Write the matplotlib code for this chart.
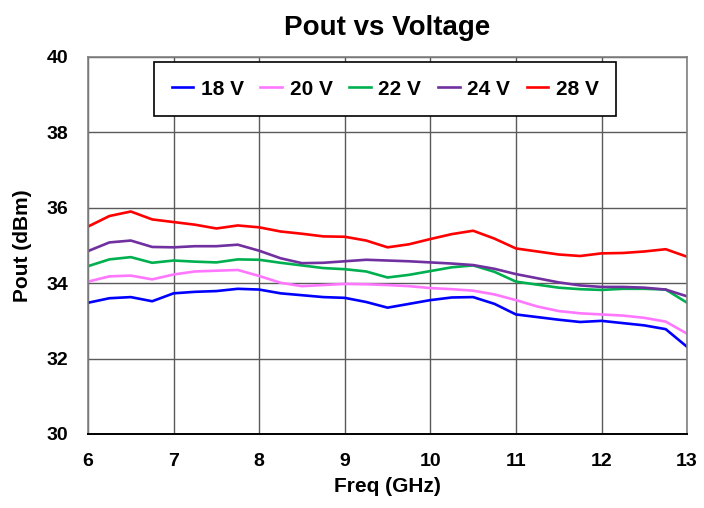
import numpy as np
import matplotlib
matplotlib.use("Agg")
import matplotlib.pyplot as plt

plt.rcParams['font.family'] = ['Liberation Sans', 'DejaVu Sans']
plt.rcParams['font.weight'] = 'bold'

freq = [6.0, 6.25, 6.5, 6.75, 7.0, 7.25, 7.5, 7.75, 8.0, 8.25, 8.5, 8.75, 9.0, 9.25, 9.5,
        9.75, 10.0, 10.25, 10.5, 10.75, 11.0, 11.25, 11.5, 11.75, 12.0, 12.25, 12.5, 12.75, 13.0]

p18 = [33.48, 33.60, 33.63, 33.52, 33.73, 33.77, 33.79, 33.85, 33.83, 33.73, 33.68, 33.63, 33.61, 33.50, 33.35,
       33.45, 33.55, 33.62, 33.63, 33.45, 33.17, 33.10, 33.03, 32.97, 33.00, 32.94, 32.88, 32.78, 32.31]
p20 = [34.04, 34.18, 34.20, 34.10, 34.23, 34.31, 34.33, 34.35, 34.19, 34.01, 33.92, 33.95, 33.98, 33.97, 33.95,
       33.92, 33.87, 33.84, 33.80, 33.70, 33.55, 33.38, 33.26, 33.20, 33.17, 33.14, 33.08, 32.98, 32.66]
p22 = [34.45, 34.63, 34.69, 34.54, 34.60, 34.57, 34.55, 34.63, 34.62, 34.54, 34.47, 34.40, 34.37, 34.31, 34.15,
       34.22, 34.32, 34.42, 34.47, 34.30, 34.04, 33.96, 33.88, 33.84, 33.82, 33.85, 33.85, 33.83, 33.48]
p24 = [34.85, 35.08, 35.13, 34.96, 34.95, 34.98, 34.98, 35.02, 34.86, 34.66, 34.53, 34.54, 34.58, 34.62, 34.60,
       34.58, 34.55, 34.52, 34.48, 34.38, 34.24, 34.13, 34.02, 33.94, 33.90, 33.90, 33.88, 33.83, 33.65]
p28 = [35.50, 35.78, 35.90, 35.69, 35.62, 35.55, 35.45, 35.53, 35.48, 35.37, 35.31, 35.24, 35.23, 35.13, 34.95,
       35.03, 35.17, 35.30, 35.39, 35.18, 34.92, 34.84, 34.76, 34.72, 34.79, 34.80, 34.84, 34.90, 34.70]

labels = ['18 V', '20 V', '22 V', '24 V', '28 V']
colors = ['#0000FF', '#FF77FF', '#00B050', '#7030A0', '#FF0000']

fig = plt.figure(figsize=(7.04, 5.08), dpi=100)
ax = fig.add_axes([0.125, 0.1457, 0.851, 0.7423])

for y, lab, c in zip([p18, p20, p22, p24, p28], labels, colors):
    ax.plot(freq, y, color=c, lw=1.9, label=lab, solid_joinstyle='round')

ax.set_xlim(6, 13)
ax.set_ylim(30, 40)
ax.set_xticks(range(6, 14))
ax.set_yticks(range(30, 41, 2))
ax.grid(True, color='#5a5a5a', lw=1.0)
ax.set_axisbelow(True)
for s in ['left', 'right', 'top']:
    ax.spines[s].set_color('#808080')
    ax.spines[s].set_linewidth(1.2)
ax.spines['bottom'].set_color('black')
ax.spines['bottom'].set_linewidth(1.4)
ax.tick_params(length=0, labelsize=14, pad=14)

ax.set_title('Pout vs Voltage', fontsize=20, fontweight='bold', pad=16)
ax.set_xlabel('Freq (GHz)', fontsize=15, fontweight='bold', labelpad=5)
ax.set_ylabel('Pout (dBm)', fontsize=15, fontweight='bold', labelpad=11)

leg = ax.legend(loc='upper left', bbox_to_anchor=(0.11, 0.987), ncol=5, fontsize=15,
                frameon=True, fancybox=False, edgecolor='black', framealpha=1,
                borderpad=0.85, handlelength=1.05, handletextpad=0.35, columnspacing=0.8,
                borderaxespad=0)
leg.get_frame().set_linewidth(1.2)

plt.savefig('out.png', dpi=100)
